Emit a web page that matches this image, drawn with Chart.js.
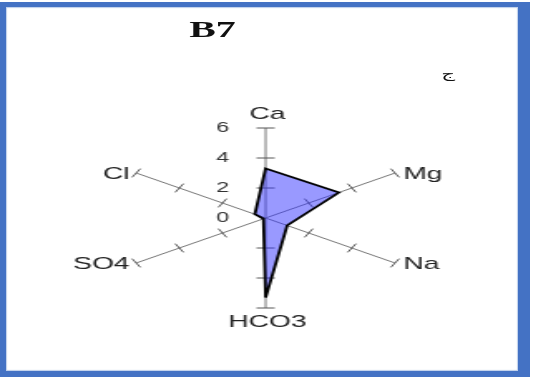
<!DOCTYPE html>
<html>
<head>
<meta charset="utf-8">
<script src="https://cdn.jsdelivr.net/npm/chart.js@4.4.1/dist/chart.umd.min.js"></script>
<style>
    html, body { margin: 0; padding: 0; background: #fff; }
    body { width: 535px; height: 380px; position: relative; overflow: hidden; }
    .frame {
        position: absolute; left: 0; top: 2px; width: 512px; height: 364px;
        border-style: solid; border-color: #4472c4;
        border-width: 5px 12px 6px 6px;
        box-shadow: inset 0 0 1px 1px rgba(68,114,196,0.35);
    }
    /* figure is drawn narrow and widened horizontally */
    .stretch {
        position: absolute; left: 0; top: 0; width: 322px; height: 380px;
        transform: scaleX(1.66); transform-origin: 0 0;
    }
    .title {
        position: absolute; left: 78px; width: 100px; top: 17px;
        text-align: center; font: bold 24px/24px "Liberation Serif", "Times New Roman", serif; color: #111;
    }
    .mark {
        position: absolute; left: 260px; width: 20px; top: 66px;
        text-align: center; font: 13px/16px "DejaVu Sans", sans-serif; color: #111;
    }
    #chartBox { position: absolute; left: 0; top: 0; width: 322px; height: 380px; }
</style>
</head>
<body>
<div class="frame"></div>
<div class="stretch">
    <div class="title">B7</div>
    <div class="mark">ج</div>
    <div id="chartBox"><canvas id="canvas-1"></canvas></div>
</div>
<script>
    'use strict';

    // ion concentrations for well B7
    var ions = ['Ca', 'Mg', 'Na', 'HCO3', 'SO4', 'Cl'];
    var values = [3.3, 3.4, 1.0, 5.3, 0.1, 0.5];
    var tickLabels = [0, 2, 4, 6];
    var tickMarks = [2, 4, 6];

    // axis ticks, numbers and ion names drawn on the radial scale
    var axisDecor = {
        id: 'axisDecor',
        beforeDatasetsDraw: function (chart) {
            var r = chart.scales.r;
            var ctx = chart.ctx;
            ctx.save();
            ctx.strokeStyle = '#555';
            ctx.lineWidth = 1;
            for (var i = 0; i < ions.length; i++) {
                var a = r.getIndexAngle(i) - Math.PI / 2;
                var px = -Math.sin(a), py = Math.cos(a);
                var half = Math.abs(py) < 0.01 ? 5.5 : 5;
                for (var j = 0; j < tickMarks.length; j++) {
                    var p = r.getPointPosition(i, r.getDistanceFromCenterForValue(tickMarks[j]));
                    ctx.beginPath();
                    ctx.moveTo(p.x - px * half, p.y - py * half);
                    ctx.lineTo(p.x + px * half, p.y + py * half);
                    ctx.stroke();
                }
            }
            ctx.restore();
        },
        afterDraw: function (chart) {
            var r = chart.scales.r;
            var ctx = chart.ctx;
            ctx.save();
            // scale numbers beside the Ca axis
            ctx.fillStyle = '#333';
            ctx.font = '14px "Liberation Sans", Arial, sans-serif';
            ctx.textAlign = 'right';
            ctx.textBaseline = 'middle';
            for (var k = 0; k < tickLabels.length; k++) {
                var y = r.yCenter - r.getDistanceFromCenterForValue(tickLabels[k]);
                ctx.fillText(String(tickLabels[k]), r.xCenter - 22, y + 0.5);
            }
            // ion names at the end of each axis
            ctx.fillStyle = '#222';
            ctx.font = '17px "Liberation Sans", Arial, sans-serif';
            for (var i = 0; i < ions.length; i++) {
                var p = r.getPointPosition(i, r.drawingArea);
                var dx = p.x - r.xCenter;
                if (Math.abs(dx) < 1) {
                    ctx.textAlign = 'center';
                    ctx.fillText(ions[i], p.x + 1, p.y < r.yCenter ? p.y - 14 : p.y + 14);
                } else {
                    ctx.textAlign = dx > 0 ? 'left' : 'right';
                    ctx.fillText(ions[i], dx > 0 ? p.x + 5 : p.x - 4, p.y + 1);
                }
            }
            ctx.restore();
        }
    };

    var radarData = {
        labels: ions,
        datasets: [
            {
                label: 'B7',
                backgroundColor: 'rgba(51,51,255,0.5)',
                borderColor: '#000',
                borderWidth: 1.8,
                pointRadius: 0,
                pointHoverRadius: 0,
                data: values
            }
        ]
    };

    var ctx = document.getElementById('canvas-1');
    var chart = new Chart(ctx, {
        type: 'radar',
        data: radarData,
        plugins: [axisDecor],
        options: {
            responsive: true,
            maintainAspectRatio: false,
            animation: false,
            layout: { padding: { left: 40, right: 42, top: 128, bottom: 72 } },
            plugins: {
                legend: { display: false },
                tooltip: { enabled: false }
            },
            scales: {
                r: {
                    min: 0,
                    max: 6,
                    ticks: { stepSize: 2, display: false },
                    grid: { display: false },
                    angleLines: { display: true, color: '#777', lineWidth: 1 },
                    pointLabels: { display: false }
                }
            }
        }
    });
</script>
</body>
</html>
